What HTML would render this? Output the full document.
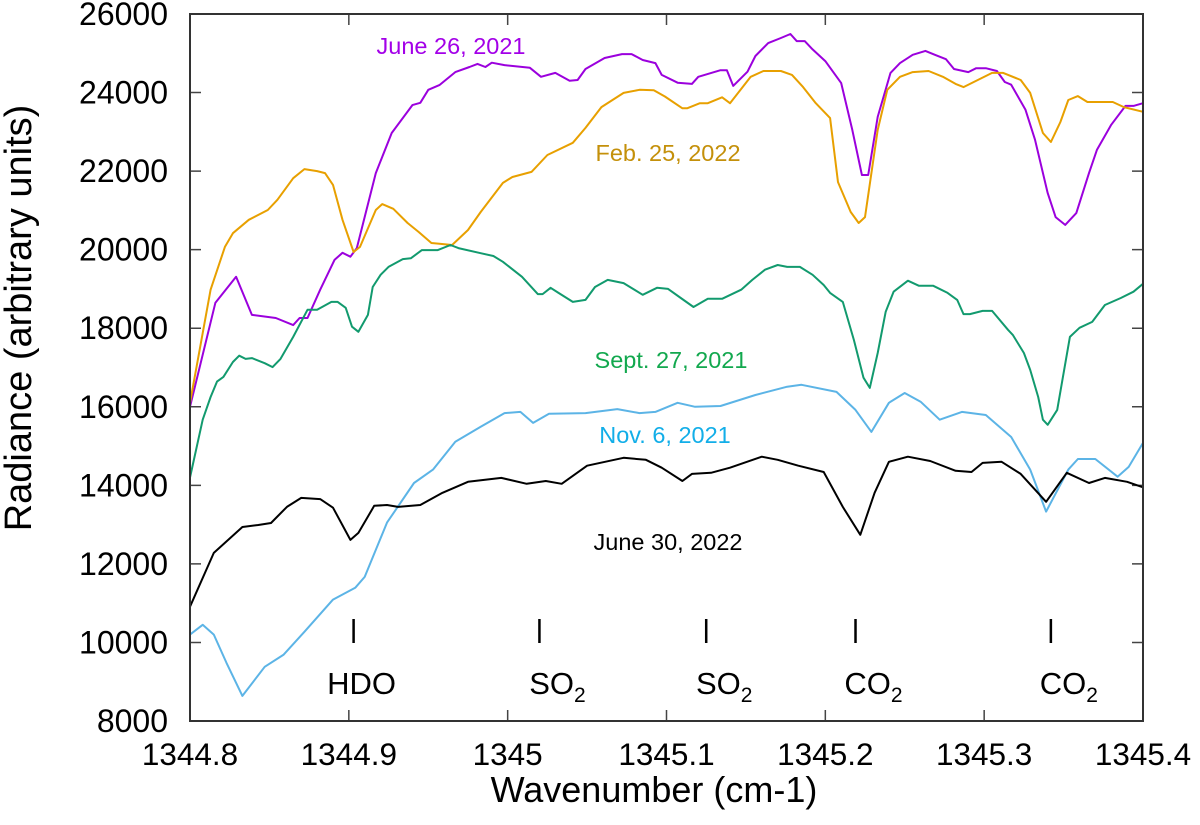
<!DOCTYPE html>
<html><head><meta charset="utf-8"><style>
body{margin:0;background:#fff}
svg{display:block;font-family:"Liberation Sans",sans-serif}
</style></head><body>
<svg id="chart" width="1200" height="825" xmlns="http://www.w3.org/2000/svg"></svg>
<script>
const xTicks=[1344.8,1344.9,1345,1345.1,1345.2,1345.3,1345.4];
const xTickLabels=["1344.8","1344.9","1345","1345.1","1345.2","1345.3","1345.4"];
const yTicks=[8000,10000,12000,14000,16000,18000,20000,22000,24000,26000];
const yTickLabels=["8000","10000","12000","14000","16000","18000","20000","22000","24000","26000"];

const purpleX=[1344.800,1344.816,1344.829,1344.839,1344.854,1344.865,1344.869,1344.874,1344.882,1344.891,1344.896,1344.901,1344.905,1344.917,1344.927,1344.940,1344.945,1344.950,1344.957,1344.967,1344.976,1344.981,1344.986,1344.990,1344.998,1345.014,1345.021,1345.030,1345.039,1345.044,1345.049,1345.061,1345.072,1345.078,1345.085,1345.093,1345.097,1345.107,1345.116,1345.120,1345.134,1345.138,1345.142,1345.151,1345.156,1345.164,1345.172,1345.178,1345.182,1345.187,1345.192,1345.200,1345.210,1345.217,1345.223,1345.227,1345.233,1345.241,1345.247,1345.255,1345.263,1345.269,1345.276,1345.281,1345.290,1345.295,1345.301,1345.308,1345.313,1345.317,1345.326,1345.332,1345.340,1345.345,1345.351,1345.358,1345.366,1345.371,1345.380,1345.389,1345.394,1345.400];
const purpleY=[16000,18650,19310,18340,18260,18080,18260,18260,18980,19740,19920,19820,20040,21950,22970,23680,23740,24070,24190,24520,24650,24730,24650,24760,24700,24630,24400,24500,24300,24320,24600,24880,24980,24980,24830,24750,24450,24250,24220,24400,24570,24570,24170,24530,24930,25260,25390,25490,25310,25310,25100,24800,24240,23050,21900,21900,23380,24500,24750,24960,25060,24960,24850,24600,24520,24620,24620,24550,24270,24200,23560,22800,21440,20830,20630,20930,21950,22540,23180,23660,23660,23730];

const orangeX=[1344.800,1344.813,1344.822,1344.827,1344.837,1344.849,1344.855,1344.865,1344.872,1344.880,1344.885,1344.890,1344.896,1344.903,1344.907,1344.917,1344.921,1344.928,1344.937,1344.944,1344.952,1344.957,1344.965,1344.975,1344.983,1344.997,1345.003,1345.015,1345.025,1345.041,1345.049,1345.059,1345.073,1345.083,1345.092,1345.099,1345.110,1345.113,1345.121,1345.126,1345.135,1345.140,1345.153,1345.161,1345.172,1345.179,1345.186,1345.194,1345.203,1345.208,1345.216,1345.221,1345.225,1345.233,1345.239,1345.247,1345.255,1345.265,1345.274,1345.282,1345.287,1345.296,1345.305,1345.312,1345.323,1345.329,1345.337,1345.342,1345.348,1345.353,1345.359,1345.365,1345.381,1345.388,1345.400];
const orangeY=[16100,18980,20070,20420,20760,21010,21270,21820,22050,22000,21950,21650,20760,19940,20070,21010,21160,21040,20680,20450,20170,20150,20120,20500,20960,21700,21850,21980,22410,22720,23100,23630,23990,24070,24060,23900,23600,23600,23730,23730,23880,23730,24400,24550,24550,24450,24140,23730,23350,21720,20960,20680,20830,23050,24070,24400,24520,24550,24400,24220,24140,24320,24500,24500,24320,23990,22970,22740,23250,23810,23910,23760,23760,23630,23510];

const greenX=[1344.800,1344.808,1344.813,1344.817,1344.821,1344.827,1344.831,1344.835,1344.839,1344.847,1344.852,1344.857,1344.865,1344.874,1344.880,1344.889,1344.893,1344.898,1344.902,1344.906,1344.912,1344.915,1344.920,1344.925,1344.934,1344.939,1344.946,1344.956,1344.964,1344.969,1344.983,1344.991,1344.997,1345.009,1345.019,1345.022,1345.027,1345.032,1345.041,1345.049,1345.055,1345.063,1345.073,1345.085,1345.094,1345.101,1345.109,1345.117,1345.126,1345.135,1345.147,1345.154,1345.162,1345.170,1345.176,1345.184,1345.192,1345.199,1345.203,1345.211,1345.218,1345.224,1345.228,1345.233,1345.238,1345.243,1345.252,1345.259,1345.268,1345.277,1345.283,1345.287,1345.291,1345.299,1345.305,1345.315,1345.318,1345.325,1345.329,1345.334,1345.337,1345.340,1345.346,1345.354,1345.360,1345.368,1345.376,1345.386,1345.394,1345.400];
const greenY=[14200,15670,16250,16640,16760,17140,17300,17220,17240,17110,17010,17220,17780,18470,18470,18670,18670,18520,18040,17910,18340,19050,19360,19560,19760,19780,19990,19990,20120,20040,19910,19840,19690,19310,18870,18870,19030,18900,18670,18720,19050,19230,19150,18850,19030,19000,18770,18540,18750,18750,18980,19230,19490,19610,19560,19560,19360,19100,18900,18670,17700,16740,16480,17370,18420,18930,19210,19080,19080,18900,18720,18360,18360,18440,18440,17960,17830,17370,16940,16250,15670,15540,15920,17780,18010,18160,18590,18770,18930,19130];

const blueX=[1344.800,1344.808,1344.815,1344.823,1344.833,1344.847,1344.859,1344.872,1344.890,1344.904,1344.910,1344.924,1344.941,1344.953,1344.967,1344.983,1344.998,1345.008,1345.016,1345.026,1345.049,1345.069,1345.083,1345.093,1345.107,1345.118,1345.134,1345.156,1345.176,1345.185,1345.207,1345.219,1345.229,1345.240,1345.250,1345.260,1345.272,1345.286,1345.301,1345.317,1345.329,1345.339,1345.353,1345.359,1345.370,1345.384,1345.391,1345.400];
const blueY=[10200,10450,10200,9480,8640,9380,9690,10270,11090,11390,11670,13050,14060,14400,15110,15490,15840,15870,15590,15820,15840,15940,15840,15870,16100,16000,16020,16300,16510,16560,16380,15920,15360,16100,16350,16130,15670,15870,15790,15230,14400,13330,14400,14670,14670,14220,14470,15080];

const blackX=[1344.800,1344.815,1344.833,1344.843,1344.851,1344.861,1344.870,1344.882,1344.890,1344.901,1344.906,1344.916,1344.924,1344.931,1344.945,1344.959,1344.975,1344.996,1345.012,1345.024,1345.034,1345.050,1345.073,1345.087,1345.097,1345.110,1345.116,1345.128,1345.140,1345.160,1345.170,1345.183,1345.199,1345.211,1345.222,1345.231,1345.240,1345.252,1345.266,1345.282,1345.292,1345.299,1345.311,1345.323,1345.339,1345.352,1345.366,1345.376,1345.390,1345.400];
const blackY=[10910,12280,12940,12990,13040,13450,13680,13650,13430,12610,12790,13480,13500,13450,13500,13810,14090,14190,14040,14110,14040,14500,14700,14650,14450,14110,14290,14320,14450,14730,14650,14500,14340,13450,12740,13810,14600,14730,14620,14370,14340,14570,14600,14290,13580,14320,14060,14190,14090,13950];

const seriesNames=["june-26-2021","feb-25-2022","sept-27-2021","nov-6-2021","june-30-2022"];
const seriesLabels=["June 26, 2021","Feb. 25, 2022","Sept. 27, 2021","Nov. 6, 2021","June 30, 2022"];
const markerX=[1344.903,1345.020,1345.125,1345.219,1345.342];
const markerLabels=["HDO","SO","SO","CO","CO"];

const L=190,R=1143,T=14,B=721;
const X0=1344.8,X1=1345.4,Y0=8000,Y1=26000;
function sx(v){return L+(v-X0)/(X1-X0)*(R-L);}
function sy(v){return B-(v-Y0)/(Y1-Y0)*(B-T);}
const svg=document.getElementById('chart');
const NS="http://www.w3.org/2000/svg";
function mk(tag,attrs,parent){const e=document.createElementNS(NS,tag);for(const k in attrs)e.setAttribute(k,attrs[k]);(parent||svg).appendChild(e);return e;}

xTicks.forEach((t,i)=>{
  const x=sx(t);
  const tk=mk('path',{d:`M${x},${B}V${B-11}M${x},${T}V${T+11}`,stroke:'#444','stroke-width':1.5});
  
  
  const lb=mk('text',{x:x,y:765,'text-anchor':'middle','font-size':31.5,fill:'#000'});
  lb.textContent=xTickLabels[i];
  
  
});
yTicks.forEach((t,i)=>{
  const y=sy(t);
  const tk=mk('path',{d:`M${L},${y}H${L+11}M${R},${y}H${R-11}`,stroke:'#444','stroke-width':1.5});
  
  
  const lb=mk('text',{x:168,y:y+11,'text-anchor':'end','font-size':32,fill:'#000'});
  lb.textContent=yTickLabels[i];
  
  
});

const colors=["#9b00dd","#e8a000","#129a6e","#5cb4e6","#000000"];
const labelColors=["#a300e8","#c4900a","#12a84e","#12aee8","#000000"];
const labelPos=[[451,54],[668,161],[671,368],[665,443],[668,550]];
const xs=[purpleX,orangeX,greenX,blueX,blackX];
const ys=[purpleY,orangeY,greenY,blueY,blackY];
xs.forEach((X,s)=>{
  const d=X.map((v,i)=>(i?'L':'M')+sx(v).toFixed(1)+','+sy(ys[s][i]).toFixed(1)).join('');
  const p=mk('path',{d:d,fill:'none',stroke:colors[s],'stroke-width':2,'stroke-linejoin':'round'});
  
  
  const t=mk('text',{x:labelPos[s][0],y:labelPos[s][1],'text-anchor':'middle','font-size':23.5,fill:labelColors[s]});
  t.textContent=seriesLabels[s];
  
  
});

markerX.forEach((m,i)=>{
  const x=sx(m);
  const ln=mk('line',{x1:x,x2:x,y1:619,y2:643,stroke:'#000','stroke-width':2.5});
  
  
  const t=mk('text',{x:x+(i===0?8:18),y:694,'text-anchor':'middle','font-size':31,fill:'#000'});
  t.textContent=markerLabels[i];
  if(i>0){const sub=mk('tspan',{'font-size':21,dy:8},t);sub.textContent='2';}
  
  
});

const fr=mk('rect',{x:190,y:14,width:953,height:707,fill:'none',stroke:'#333','stroke-width':2});


const xt=mk('text',{x:654,y:802,'text-anchor':'middle','font-size':36});
xt.textContent='Wavenumber (cm-1)';


const yt=mk('text',{transform:'translate(31,318) rotate(-90)','text-anchor':'middle','font-size':38});
yt.textContent='Radiance (arbitrary units)';


</script>
</body></html>
